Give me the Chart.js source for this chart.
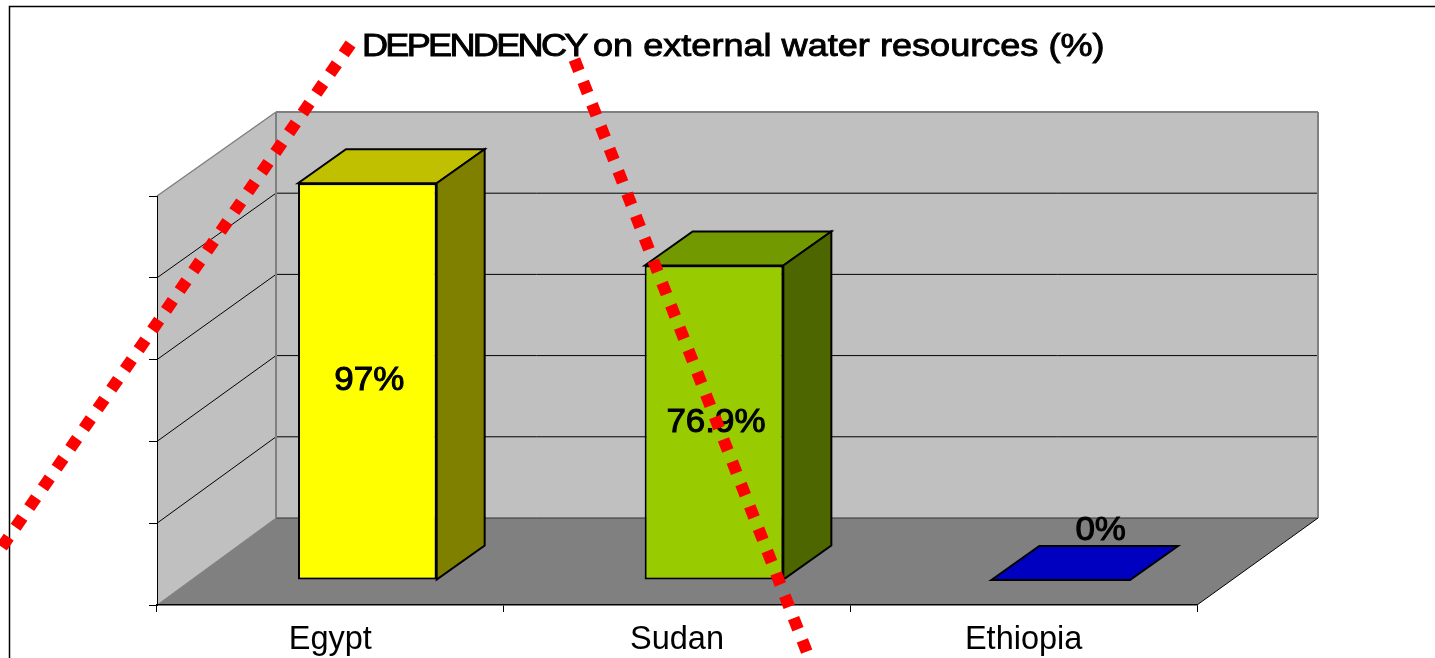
<!DOCTYPE html>
<html>
<head>
<meta charset="utf-8">
<script src="https://cdn.jsdelivr.net/npm/chart.js@4"></script>
<style>
    html, body { margin: 0; padding: 0; background: #fff; overflow: hidden; }
    #wrap { width: 1435px; height: 658px; }
</style>
</head>
<body>
<div id="wrap"><canvas id="graph"></canvas></div>
<script>
var titleHead = "DEPENDENCY";
var titleTail = "on external water resources (%)";
var categories = ["Egypt", "Sudan", "Ethiopia"];
var values = [97, 76.9, 0];
var valueLabels = ["97%", "76.9%", "0%"];

// the two red dotted lines, x in category positions, y in axis units
var lineOneX = [0.0583, -0.9674];
var lineOneY = [137.16, 11.74];
var lineTwoX = [0.7042, 1.3837];
var lineTwoY = [133.37, -13.45];

var frontColors = ["#ffff00", "#99cc00", "#0000c0"];
var topColors = ["#c0c000", "#729900", "#0000c0"];
var sideColors = ["#808000", "#4d6600", "#000080"];

var FONT = '"Liberation Sans", Arial, sans-serif';

// fake 3d: how far the walls go back and how far the bars sit in front of them
var wallDx = 119, wallDy = -87;
var barShiftX = 37, barShiftY = -25;
var barDx = 48, barDy = -34;

function toPoints(xs, ys) {
    return xs.map(function (x, i) { return { x: x, y: ys[i] }; });
}

function poly(ctx, pts, fill, stroke, width) {
    ctx.beginPath();
    pts.forEach(function (p, i) {
        if (i == 0) ctx.moveTo(p[0], p[1]);
        else ctx.lineTo(p[0], p[1]);
    });
    ctx.closePath();
    if (fill) {
        ctx.fillStyle = fill;
        ctx.fill();
    }
    if (stroke) {
        ctx.strokeStyle = stroke;
        ctx.lineWidth = width;
        ctx.stroke();
    }
}

function seg(ctx, x1, y1, x2, y2, color, width) {
    ctx.beginPath();
    ctx.moveTo(x1, y1);
    ctx.lineTo(x2, y2);
    ctx.strokeStyle = color;
    ctx.lineWidth = width;
    ctx.stroke();
}

// the back wall is a touch shorter than the front axis
function backY(yScale, v) {
    return yScale.getPixelForValue(v) + wallDy + 3 * v / 100;
}

// the reference text is stretched sideways, so scale instead of a bigger font
function wideText(ctx, text, x, y, stretch, spacing) {
    ctx.save();
    ctx.translate(x, y);
    ctx.scale(stretch, 1);
    ctx.letterSpacing = spacing + 'px';
    ctx.fillText(text, 0, 0);
    ctx.strokeText(text, 0, 0);
    ctx.restore();
}

var box3d = {
    id: 'box3d',
    beforeDraw: function (chart) {
        var ctx = chart.ctx;
        var a = chart.chartArea;
        var ys = chart.scales.y;
        var l = a.left, r = a.right, t = a.top, b = a.bottom;
        var bl = l + wallDx, br = r + 121;
        var bt = backY(ys, 100), bb = backY(ys, 0);

        ctx.save();
        // outer frame, cut off by the picture on the right and at the bottom
        ctx.beginPath();
        ctx.moveTo(9.5, chart.height);
        ctx.lineTo(9.5, 6.5);
        ctx.lineTo(chart.width, 6.5);
        ctx.strokeStyle = '#000';
        ctx.lineWidth = 1.5;
        ctx.stroke();

        // walls and floor
        poly(ctx, [[bl, bt], [br, bt], [br, bb], [bl, bb]], '#c0c0c0');
        poly(ctx, [[l, t], [bl, bt], [bl, bb], [l, b]], '#c0c0c0');
        poly(ctx, [[l, b], [bl, bb], [br, bb], [r, b]], '#808080');

        // gridlines run along the side wall and the back wall
        ys.ticks.forEach(function (tick) {
            if (tick.value <= 0 || tick.value >= 100) return;
            var fy = ys.getPixelForValue(tick.value);
            var by = backY(ys, tick.value);
            seg(ctx, l, fy, bl, by, '#000', 1);
            seg(ctx, bl, by, br, by, '#000', 1);
        });
        seg(ctx, bl, bb, br, bb, '#333', 1);

        seg(ctx, l, t, bl, bt, '#808080', 1.5);
        seg(ctx, bl, bt, br, bt, '#808080', 2);
        seg(ctx, bl, bt, bl, bb, '#808080', 2);
        seg(ctx, br, bt, br, bb, '#808080', 2);
        seg(ctx, l, b, bl, bb, '#808080', 1);
        seg(ctx, r, b, br, bb, '#000', 1);
        ctx.restore();
    },
    beforeDatasetDraw: function (chart, args) {
        if (args.meta.type != 'bar') return;
        var ctx = chart.ctx;
        ctx.save();
        ctx.translate(barShiftX, barShiftY);
        args.meta.data.forEach(function (bar, i) {
            var l = bar.x - bar.width / 2, r = bar.x + bar.width / 2;
            var top = bar.y, bottom = bar.base;
            poly(ctx, [[l, top], [l + barDx, top + barDy], [r + barDx, top + barDy], [r, top]], topColors[i], '#000', 2);
            if (bottom - top > 1) {
                poly(ctx, [[r, top], [r + barDx, top + barDy], [r + barDx, bottom + barDy], [r, bottom]], sideColors[i], '#000', 2);
            }
        });
    },
    afterDatasetDraw: function (chart, args) {
        if (args.meta.type != 'bar') return;
        var ctx = chart.ctx;
        ctx.fillStyle = '#000';
        ctx.strokeStyle = '#000';
        ctx.lineWidth = 1;
        ctx.font = '33px ' + FONT;
        ctx.textAlign = 'center';
        ctx.textBaseline = 'middle';
        args.meta.data.forEach(function (bar, i) {
            var x = bar.x + 2;
            var y = (bar.y + bar.base) / 2;
            // a zero bar has no face, its label sits behind it on the floor
            if (values[i] == 0) {
                x = bar.x + 40;
                y = bar.base - 49;
            }
            wideText(ctx, valueLabels[i], x, y, 1.06, 0);
        });
        ctx.restore();
    },
    afterDraw: function (chart) {
        var ctx = chart.ctx;
        ctx.save();
        ctx.fillStyle = '#000';
        ctx.strokeStyle = '#000';
        ctx.lineWidth = 0.9;
        ctx.font = '32px ' + FONT;
        ctx.textAlign = 'left';
        ctx.textBaseline = 'middle';
        wideText(ctx, titleHead, 362, 47, 1.128, -2.4);
        wideText(ctx, titleTail, 593, 47, 1.128, 0);
        ctx.restore();
    }
};

document.addEventListener('DOMContentLoaded', function () {
    const chartCtx = document.getElementById('graph').getContext('2d');

    new Chart(chartCtx, {
        data: {
            labels: categories,
            datasets: [
                {
                    type: 'bar',
                    order: 1,
                    data: values,
                    backgroundColor: frontColors,
                    borderColor: '#000',
                    borderWidth: 2,
                    borderSkipped: false,
                    barPercentage: 0.4,
                    categoryPercentage: 1
                },
                {
                    type: 'line',
                    order: 0,
                    parsing: false,
                    data: toPoints(lineOneX, lineOneY),
                    borderColor: '#ff0000',
                    borderWidth: 12,
                    borderDash: [12, 12],
                    pointRadius: 0,
                    clip: false
                },
                {
                    type: 'line',
                    order: 0,
                    parsing: false,
                    data: toPoints(lineTwoX, lineTwoY),
                    borderColor: '#ff0000',
                    borderWidth: 12,
                    borderDash: [12, 12],
                    pointRadius: 0,
                    clip: false
                }
            ]
        },
        plugins: [box3d],
        options: {
            responsive: true,
            maintainAspectRatio: false,
            animation: false,
            layout: {
                padding: { left: 157, right: 238, top: 196, bottom: 0 }
            },
            plugins: {
                legend: { display: false },
                tooltip: { enabled: false },
                title: { display: false }
            },
            scales: {
                x: {
                    type: 'category',
                    offset: true,
                    afterFit: function (scale) { scale.height = 53; },
                    grid: {
                        offset: true,
                        drawOnChartArea: false,
                        color: '#000',
                        tickLength: 7
                    },
                    border: { color: '#000', width: 1.5 },
                    ticks: {
                        color: '#000',
                        font: { family: FONT, size: 32.5 },
                        padding: 9,
                        maxRotation: 0
                    }
                },
                y: {
                    min: 0,
                    max: 100,
                    afterFit: function (scale) { scale.width = 0; },
                    grid: {
                        drawOnChartArea: false,
                        color: '#000',
                        tickLength: 8
                    },
                    border: { color: '#000', width: 1 },
                    ticks: {
                        stepSize: 20,
                        callback: function () { return ''; }
                    }
                }
            }
        }
    });
});
</script>
</body>
</html>
